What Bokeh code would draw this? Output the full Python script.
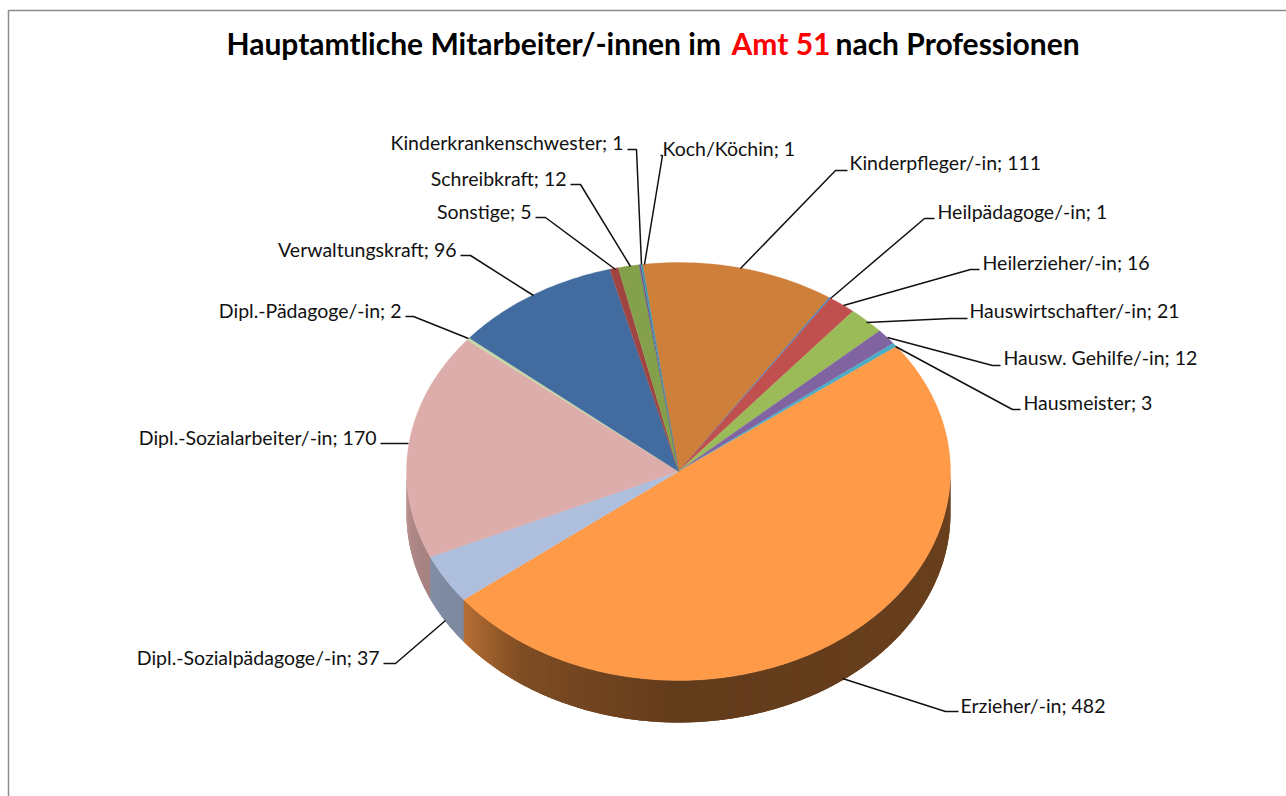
import numpy as np
from bokeh.plotting import figure
from bokeh.models import ColumnDataSource, Range1d
from bokeh.core.properties import value
from bokeh.embed import file_html
from bokeh.resources import INLINE

# ---- data (clockwise, beginning at Kinderpfleger) ----
categories = ["Kinderpfleger/-in", "Heilpädagoge/-in", "Heilerzieher/-in", "Hauswirtschafter/-in",
              "Hausw. Gehilfe/-in", "Hausmeister", "Erzieher/-in", "Dipl.-Sozialpädagoge/-in",
              "Dipl.-Sozialarbeiter/-in", "Dipl.-Pädagoge/-in", "Verwaltungskraft", "Sonstige",
              "Schreibkraft", "Kinderkrankenschwester", "Koch/Köchin"]
counts = [111, 1, 16, 21, 12, 3, 482, 37, 170, 2, 96, 5, 12, 1, 1]

# ---- styles ----
colors = ["#CE7F3A", "#4F81BD", "#C0504D", "#9BBB59", "#8064A2", "#4BACC6", "#FE9A48", "#AEBEDD",
          "#DDADAB", "#C6D8A6", "#426C9F", "#A04441", "#84A04B", "#6D5589", "#3F93AA"]
FONT = "Lato"
LABEL_SIZE = "19.5px"
TITLE_SIZE = "30px"

# ---- layout, in picture pixels ----
CX, CY, RX, RY, DEPTH = 678, 471, 272, 209, 42
START = -7.6  # degrees clockwise from the top
# label x, label y, align, leader: text end -> elbow -> pie
layout = {
    "Kinderpfleger/-in": (849, 162, "left", [(847, 170), (835, 170), (740, 268)]),
    "Heilpädagoge/-in": (937, 211, "left", [(934, 218), (924, 218), (830, 298)]),
    "Heilerzieher/-in": (982, 262, "left", [(979, 269), (970, 269), (843, 305)]),
    "Hauswirtschafter/-in": (969, 310, "left", [(967, 318), (950, 318), (866, 322)]),
    "Hausw. Gehilfe/-in": (1003, 357, "left", [(1000, 365), (992, 365), (887, 337)]),
    "Hausmeister": (1023, 402, "left", [(1020, 409), (1012, 409), (895, 346)]),
    "Erzieher/-in": (960, 705, "left", [(958, 711), (945, 711), (842, 678)]),
    "Dipl.-Sozialpädagoge/-in": (379, 657, "right", [(383, 663), (395, 663), (445, 620)]),
    "Dipl.-Sozialarbeiter/-in": (376, 437, "right", [(380, 443), (408, 443)]),
    "Dipl.-Pädagoge/-in": (401, 310, "right", [(405, 316), (413, 316), (468, 338)]),
    "Verwaltungskraft": (456, 249, "right", [(460, 255), (470, 255), (533, 295)]),
    "Sonstige": (531, 211, "right", [(535, 217), (545, 217), (615, 269)]),
    "Schreibkraft": (566, 178, "right", [(570, 184), (580, 184), (630, 266)]),
    "Kinderkrankenschwester": (623, 142, "right", [(627, 149), (636, 149), (641, 264)]),
    "Koch/Köchin": (662, 148, "left", [(660, 155), (662, 155), (644, 264)]),
}

W, H = 1286, 796
p = figure(width=W, height=H, output_backend="svg", toolbar_location=None,
           x_range=Range1d(0, W), y_range=Range1d(H, 0),
           min_border=0, outline_line_color=None, background_fill_color="white")
p.xaxis.visible = False
p.yaxis.visible = False
p.grid.visible = False

# frame
p.line([W, 8, 8], [10, 10, H], line_color="#8C8C8C", line_width=1.5)


def hex_rgb(c):
    return tuple(int(c[i:i + 2], 16) for i in (1, 3, 5))


def shade(c, f):
    return "#%02x%02x%02x" % tuple(int(v * f) for v in hex_rgb(c))


def px(a):
    return CX + RX * np.sin(np.radians(a))


def py(a):
    return CY - RY * np.cos(np.radians(a))


spans = np.array(counts) / sum(counts) * 360
ends = START + np.cumsum(spans)
starts = ends - spans

# side wall: visible for the front half only
sx, sy, sc = [], [], []
for a0, a1, col in zip(starts, ends, colors):
    lo, hi = max(a0, 90), min(a1, 270)
    if hi <= lo:
        continue
    edges = np.linspace(lo, hi, max(2, int((hi - lo) / 0.7) + 2))
    for e0, e1 in zip(edges[:-1], edges[1:]):
        f = np.interp((e0 + e1) / 2, [90, 180, 215, 232, 250, 270], [.42, .39, .50, .72, .76, .84])
        e2 = min(e1 + 1.0, 270)  # overlap the next strip so that no seam shows
        sx.append([px(e0), px(e2), px(e2), px(e0)])
        sy.append([py(e0), py(e2), py(e2) + DEPTH, py(e0) + DEPTH])
        sc.append(shade(col, f))
p.patches("x", "y", source=ColumnDataSource(dict(x=sx, y=sy, c=sc)), fill_color="c", line_color=None)

# top face
tx, ty = [], []
for a0, a1 in zip(starts, ends):
    arc = np.linspace(a0, a1, max(3, int(a1 - a0) + 2))
    tx.append([CX] + list(px(arc)))
    ty.append([CY] + list(py(arc)))
p.patches("x", "y", source=ColumnDataSource(dict(x=tx, y=ty, c=colors)), fill_color="c", line_color="c", line_width=0.3)

# leaders and labels
for cat, n in zip(categories, counts):
    x, y, align, pts = layout[cat]
    p.line([q[0] for q in pts], [q[1] for q in pts], line_color="#111111", line_width=1.5)
    p.text([x], [y], text=[f"{cat}; {n}"], text_align=align, text_baseline="middle",
           text_font=value(FONT), text_font_size=LABEL_SIZE, text_color="#111111")

# title in three runs
title_parts = [("Hauptamtliche Mitarbeiter/-innen im", "#000000", 226),
               ("Amt 51", "#FF0000", 731),
               ("nach Professionen", "#000000", 835)]
for t, c, x in title_parts:
    p.text([x], [42.5], text=[t], text_baseline="middle", text_font=value(FONT), text_font_style="bold",
           text_font_size=TITLE_SIZE, text_color=c)

open("out.html", "w").write(file_html(p, INLINE))
